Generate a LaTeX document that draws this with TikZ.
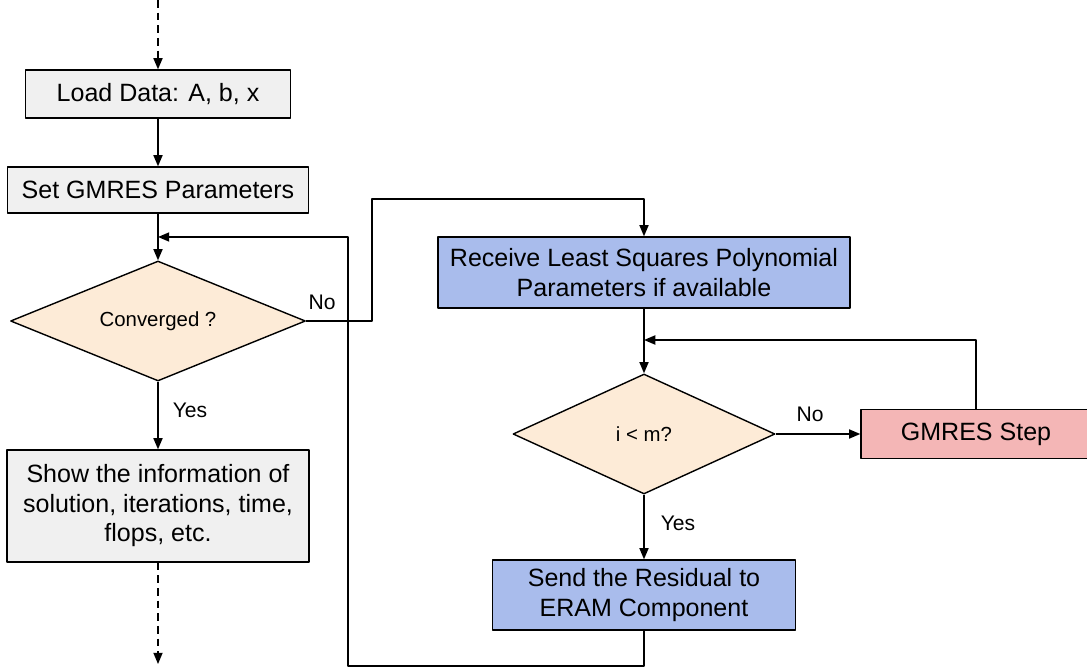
\documentclass[tikz,border=0pt]{standalone}
\usepackage{fontspec}
\setmainfont{Liberation Sans}
\usepackage{tikz}
\usetikzlibrary{calc, shapes.geometric, positioning, arrows.meta}
\definecolor{boxgray}{RGB}{240, 240, 240}
\definecolor{boxblue}{RGB}{169, 188, 236}
\definecolor{boxpink}{RGB}{244, 182, 182}
\definecolor{decbeige}{RGB}{253, 235, 215}

\begin{document}
\begin{tikzpicture}[line join=round, >={Triangle[length=8pt, width=6.5pt]},
    proc/.style={draw, line width=1pt, rectangle, align=center, inner sep=2pt,
        font=\fontsize{17.8}{21}\selectfont},
    decide/.style={draw, line width=1pt, diamond, fill=decbeige, inner sep=0pt,
        font=\fontsize{14.5}{17}\selectfont},
    link/.style={line width=1pt},
    lbl/.style={font=\fontsize{15}{18}\selectfont}]
    \useasboundingbox (0,0) rectangle (27.175,-16.725);

    % Left column
    \node[proc, fill=boxgray, minimum width=6.625cm, minimum height=1.2cm] (load) at (3.95,-2.35) {Load Data: A, b, x};
    \node[proc, fill=boxgray, minimum width=7.525cm, minimum height=1.15cm] (setp) at (3.95,-4.75) {Set GMRES Parameters};
    \node[decide, aspect=2.46, minimum width=7.375cm, minimum height=3cm] (conv) at (3.95,-8.025) {Converged ?};
    \node[proc, fill=boxgray, minimum width=7.55cm, minimum height=2.8cm] (show) at (3.95,-12.65)
        {Show the information of\\solution, iterations, time,\\flops, etc.};

    % Right column
    \node[proc, fill=boxblue, minimum width=10.3cm, minimum height=1.775cm] (recv) at (16.1,-6.8125)
        {Receive Least Squares Polynomial\\Parameters if available};
    \node[decide, aspect=2.18, minimum width=6.55cm, minimum height=3cm] (itest) at (16.1,-10.85) {i < m?};
    \node[proc, fill=boxpink, minimum width=5.75cm, minimum height=1.225cm] (gstep) at (24.4,-10.85) {GMRES Step};
    \node[proc, fill=boxblue, minimum width=7.575cm, minimum height=1.75cm] (send) at (16.1,-14.875)
        {Send the Residual to\\ERAM Component};

    % Corner points
    \coordinate (top) at (3.95,0);
    \coordinate (bottom) at (3.95,-16.6);
    \coordinate (nojog) at (9.3,-4.975);
    \coordinate (ret) at (8.7,-16.65);
    \coordinate (retin) at (3.95,-5.925);
    \coordinate (stepin) at (16.1,-8.5);

    % Connectors
    \draw[->, link, dash pattern=on 5.5pt off 3.5pt] (top) -- (load);
    \draw[->, link] (load) -- (setp);
    \draw[->, link] (setp) -- (conv);
    \draw[->, link] (conv) -- (show);
    \node[lbl] (convyes) at (4.75,-10.25) {Yes};
    \draw[->, link, dash pattern=on 5.5pt off 3.5pt] (show) -- (bottom);
    \draw[->, link] (conv.east) -| (nojog) -| (recv.north);
    \node[lbl] (convno) at (8.05,-7.55) {No};
    \draw[->, link] (recv) -- (itest);
    \draw[->, link] (itest) -- (gstep);
    \node[lbl] (itestno) at (20.25,-10.35) {No};
    \draw[->, link] (gstep.north) |- (stepin);
    \draw[->, link] (itest) -- (send);
    \node[lbl] (itestyes) at (16.95,-13.08) {Yes};
    \draw[->, link] (send.south) |- (ret) |- (retin);
\end{tikzpicture}
\end{document}
